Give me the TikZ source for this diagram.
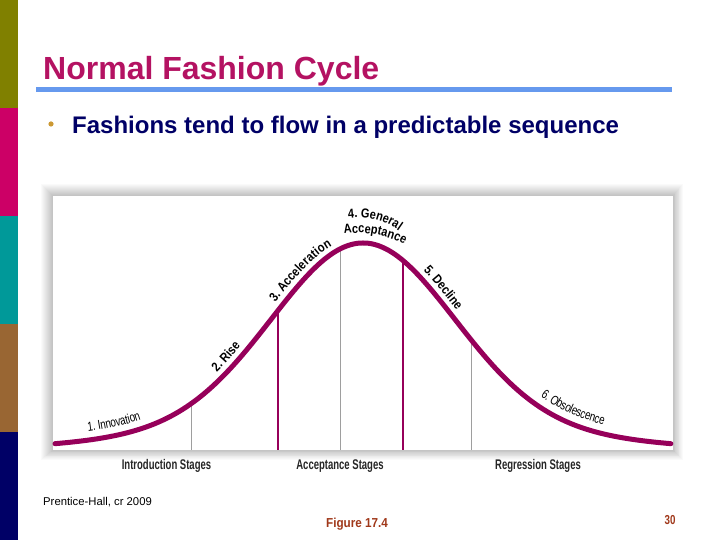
\documentclass[tikz,border=0pt]{standalone}
\usepackage{fontspec}
\setmainfont{Liberation Sans}
\newfontfamily\condfont[FakeStretch=0.75]{Liberation Sans}
\newfontfamily\wideLab[FakeStretch=0.85]{Liberation Sans}
\newfontfamily\stagefont[FakeStretch=0.68]{Liberation Sans}
\newfontfamily\figfont[FakeStretch=0.9]{Liberation Sans}
\usetikzlibrary{decorations.text}
\definecolor{barolive}{RGB}{128,128,0}
\definecolor{barmag}{RGB}{204,0,102}
\definecolor{barteal}{RGB}{0,153,153}
\definecolor{barbrown}{RGB}{153,102,51}
\definecolor{barnavy}{RGB}{0,0,102}
\definecolor{titlecol}{RGB}{180,18,98}
\definecolor{rulecol}{RGB}{102,153,238}
\definecolor{bulletcol}{RGB}{204,153,51}
\definecolor{curvecol}{RGB}{150,0,90}
\definecolor{footcol}{RGB}{160,56,26}
\begin{document}
\begin{tikzpicture}[x=1pt,y=1pt,
  declare function={fc(\x)=88+180*exp(-\x*\x/1.62)+29*exp(-\x*\x/7.22);},
  curve/.style={draw=curvecol, line width=5pt, line cap=round},
  magline/.style={draw=curvecol, line width=2.6pt},
  grayline/.style={draw=black!38, line width=0.9pt},
  stagelab/.style={font=\stagefont\bfseries\fontsize{14}{14}\selectfont, text=black!85, inner sep=0, anchor=base},
]
\useasboundingbox (0,0) rectangle (720,540);
\fill[white] (0,0) rectangle (720,540);
% colour bars
\fill[barolive] (0,432) rectangle (18,540);
\fill[barmag]   (0,324) rectangle (18,432);
\fill[barteal]  (0,216) rectangle (18,324);
\fill[barbrown] (0,108) rectangle (18,216);
\fill[barnavy]  (0,0)   rectangle (18,108);
% title
\node[anchor=base west, inner sep=0, text=titlecol, font=\bfseries\fontsize{32}{32}\selectfont] (title) at (43,460) {Normal Fashion Cycle};
\draw[rulecol, line width=5pt] (36,450.5) -- (672,450.5);
% bullet
\fill[bulletcol] (51,416) circle (2.6);
\node[anchor=base west, inner sep=0, text=barnavy, font=\bfseries\fontsize{24}{24}\selectfont] (bullet) at (72,406) {Fashions tend to flow in a predictable sequence};
% panel shadow and panel
\foreach \i in {12,11,...,1}
  \fill[black, opacity=0.02] (53-\i,90-0.8*\i) rectangle (673+0.8*\i,344+\i);
\fill[white] (53,90) rectangle (673,344);
% dividers
\draw[grayline] (191,90) -- (191,{fc(-1.72)});
\draw[magline] (278,90) -- (278,{fc(-0.85)});
\draw[grayline] (340,90) -- (340,{fc(-0.23)});
\draw[magline] (403,90) -- (403,{fc(0.40)});
\draw[grayline] (471,90) -- (471,{fc(1.08)});
% curve
\draw[curve] plot[domain=-3.08:3.08, samples=125, smooth] ({363+100*\x},{fc(\x)});
% labels along the curve
\path[decorate, decoration={text along path, raise=8.5pt, text align=center, text={|\condfont\fontsize{13}{13}\selectfont|1. Innovation}}]
  plot[domain=-3.0:-1.95, samples=15] ({363+100*\x},{fc(\x)});
\path[decorate, decoration={text along path, raise=7pt, text align=center, text={|\wideLab\bfseries\fontsize{13}{13}\selectfont|2. Rise}}]
  plot[domain=-1.55:-1.05, samples=10] ({363+100*\x},{fc(\x)});
\path[decorate, decoration={text along path, raise=7pt, text align=center, text={|\wideLab\bfseries\fontsize{13}{13}\selectfont|3. Acceleration}}]
  plot[domain=-1.0:0.0, samples=20] ({363+100*\x},{fc(\x)});
\path[decorate, decoration={text along path, raise=7pt, text align=center, text={|\wideLab\bfseries\fontsize{13}{13}\selectfont|5. Decline}}]
  plot[domain=0.45:0.97, samples=10] ({363+100*\x},{fc(\x)});
\path[decorate, decoration={text along path, raise=9pt, text align=center, text={|\condfont\fontsize{13}{13}\selectfont|6. Obsolescence}}]
  plot[domain=1.55:2.6, samples=15] ({363+100*\x},{fc(\x)});
\path[decorate, decoration={text along path, text align=center, text={|\wideLab\bfseries\fontsize{13}{13}\selectfont|4. General}}]
  (358,252.5) ++(106:70) arc[start angle=106, end angle=46, radius=70];
\path[decorate, decoration={text along path, text align=center, text={|\wideLab\bfseries\fontsize{13}{13}\selectfont|Acceptance}}]
  (358,207) ++(100.2:100) arc[start angle=100.2, end angle=60.2, radius=100];
% stage labels
\node[stagelab] (intro) at (166.5,70) {Introduction Stages};
\node[stagelab] (accept) at (340,70) {Acceptance Stages};
\node[stagelab] (regress) at (538,70) {Regression Stages};
% footer
\node[anchor=base west, inner sep=0, font=\fontsize{11.3}{11.3}\selectfont] (credit) at (43,34) {Prentice-Hall, cr 2009};
\node[anchor=base, inner sep=0, text=footcol, font=\figfont\bfseries\fontsize{13}{13}\selectfont] (fig) at (357,12) {Figure 17.4};
\node[anchor=base, inner sep=0, text=footcol, font=\condfont\bfseries\fontsize{13}{13}\selectfont] (page) at (670,15) {30};
\end{tikzpicture}
\end{document}
